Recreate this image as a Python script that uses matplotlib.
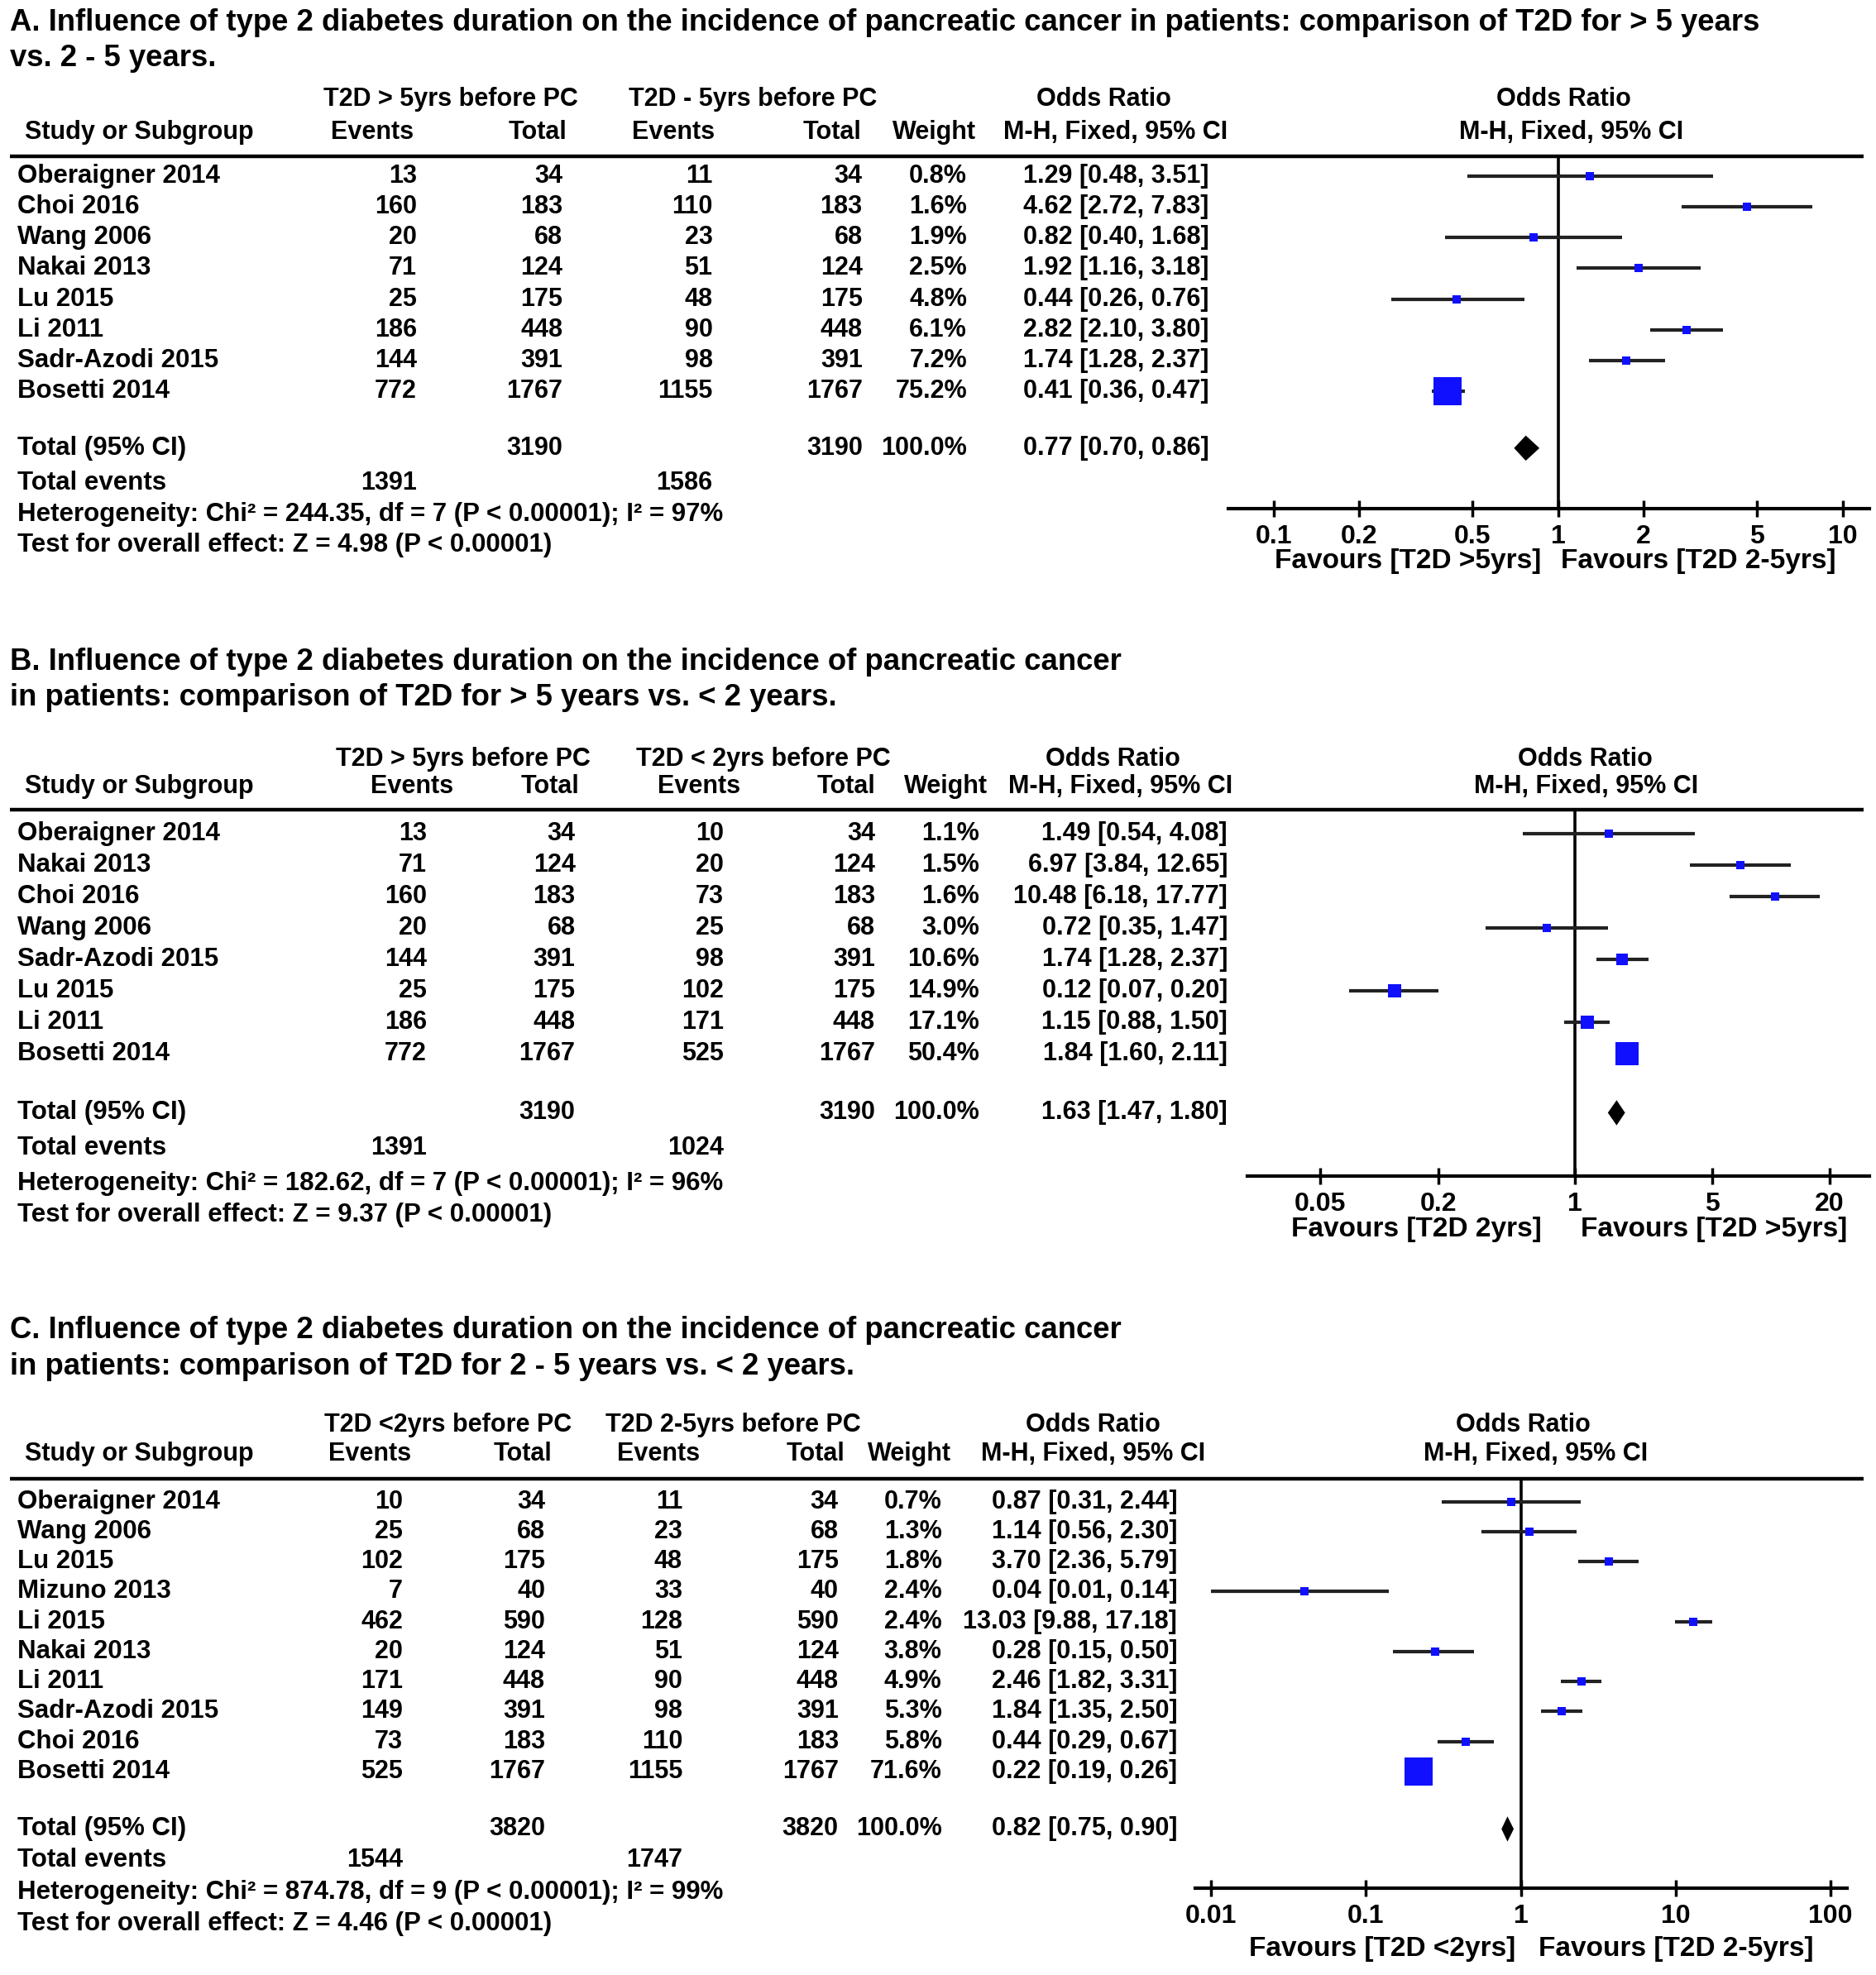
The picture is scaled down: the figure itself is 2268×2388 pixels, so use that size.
import numpy as np
import matplotlib
matplotlib.use("Agg")
import matplotlib.pyplot as plt

plt.rcParams['font.family'] = ['Liberation Sans', 'DejaVu Sans']
plt.rcParams['font.weight'] = 'bold'

# ---------------- panel A : > 5 yrs vs 2 - 5 yrs
title_a = ["A. Influence of type 2 diabetes duration on the incidence of pancreatic cancer in patients: comparison of T2D for > 5 years",
           "vs. 2 - 5 years."]
groups_a = ["T2D > 5yrs before PC", "T2D - 5yrs before PC"]
studies_a = ["Oberaigner 2014", "Choi 2016", "Wang 2006", "Nakai 2013", "Lu 2015",
             "Li 2011", "Sadr-Azodi 2015", "Bosetti 2014"]
ev1_a = [13, 160, 20, 71, 25, 186, 144, 772]
tot1_a = [34, 183, 68, 124, 175, 448, 391, 1767]
ev2_a = [11, 110, 23, 51, 48, 90, 98, 1155]
tot2_a = [34, 183, 68, 124, 175, 448, 391, 1767]
weight_a = [0.8, 1.6, 1.9, 2.5, 4.8, 6.1, 7.2, 75.2]
or_a = [1.29, 4.62, 0.82, 1.92, 0.44, 2.82, 1.74, 0.41]
lo_a = [0.48, 2.72, 0.40, 1.16, 0.26, 2.10, 1.28, 0.36]
hi_a = [3.51, 7.83, 1.68, 3.18, 0.76, 3.80, 2.37, 0.47]
total_a = (3190, 3190, 0.77, 0.70, 0.86)
events_a = (1391, 1586)
het_a = "Heterogeneity: Chi² = 244.35, df = 7 (P < 0.00001); I² = 97%"
test_a = "Test for overall effect: Z = 4.98 (P < 0.00001)"
ticks_a = [0.1, 0.2, 0.5, 1, 2, 5, 10]
ticklabels_a = ["0.1", "0.2", "0.5", "1", "2", "5", "10"]
favours_a = ["Favours [T2D >5yrs]", "Favours [T2D 2-5yrs]"]

# ---------------- panel B : > 5 yrs vs < 2 yrs
title_b = ["B. Influence of type 2 diabetes duration on the incidence of pancreatic cancer",
           "in patients: comparison of T2D for > 5 years vs. < 2 years."]
groups_b = ["T2D > 5yrs before PC", "T2D < 2yrs before PC"]
studies_b = ["Oberaigner 2014", "Nakai 2013", "Choi 2016", "Wang 2006", "Sadr-Azodi 2015",
             "Lu 2015", "Li 2011", "Bosetti 2014"]
ev1_b = [13, 71, 160, 20, 144, 25, 186, 772]
tot1_b = [34, 124, 183, 68, 391, 175, 448, 1767]
ev2_b = [10, 20, 73, 25, 98, 102, 171, 525]
tot2_b = [34, 124, 183, 68, 391, 175, 448, 1767]
weight_b = [1.1, 1.5, 1.6, 3.0, 10.6, 14.9, 17.1, 50.4]
or_b = [1.49, 6.97, 10.48, 0.72, 1.74, 0.12, 1.15, 1.84]
lo_b = [0.54, 3.84, 6.18, 0.35, 1.28, 0.07, 0.88, 1.60]
hi_b = [4.08, 12.65, 17.77, 1.47, 2.37, 0.20, 1.50, 2.11]
total_b = (3190, 3190, 1.63, 1.47, 1.80)
events_b = (1391, 1024)
het_b = "Heterogeneity: Chi² = 182.62, df = 7 (P < 0.00001); I² = 96%"
test_b = "Test for overall effect: Z = 9.37 (P < 0.00001)"
ticks_b = [0.05, 0.2, 1, 5, 20]
ticklabels_b = ["0.05", "0.2", "1", "5", "20"]
favours_b = ["Favours [T2D 2yrs]", "Favours [T2D >5yrs]"]

# ---------------- panel C : 2 - 5 yrs vs < 2 yrs
title_c = ["C. Influence of type 2 diabetes duration on the incidence of pancreatic cancer",
           "in patients: comparison of T2D for 2 - 5 years vs. < 2 years."]
groups_c = ["T2D <2yrs before PC", "T2D 2-5yrs before PC"]
studies_c = ["Oberaigner 2014", "Wang 2006", "Lu 2015", "Mizuno 2013", "Li 2015",
             "Nakai 2013", "Li 2011", "Sadr-Azodi 2015", "Choi 2016", "Bosetti 2014"]
ev1_c = [10, 25, 102, 7, 462, 20, 171, 149, 73, 525]
tot1_c = [34, 68, 175, 40, 590, 124, 448, 391, 183, 1767]
ev2_c = [11, 23, 48, 33, 128, 51, 90, 98, 110, 1155]
tot2_c = [34, 68, 175, 40, 590, 124, 448, 391, 183, 1767]
weight_c = [0.7, 1.3, 1.8, 2.4, 2.4, 3.8, 4.9, 5.3, 5.8, 71.6]
or_c = [0.87, 1.14, 3.70, 0.04, 13.03, 0.28, 2.46, 1.84, 0.44, 0.22]
lo_c = [0.31, 0.56, 2.36, 0.01, 9.88, 0.15, 1.82, 1.35, 0.29, 0.19]
hi_c = [2.44, 2.30, 5.79, 0.14, 17.18, 0.50, 3.31, 2.50, 0.67, 0.26]
total_c = (3820, 3820, 0.82, 0.75, 0.90)
events_c = (1544, 1747)
het_c = "Heterogeneity: Chi² = 874.78, df = 9 (P < 0.00001); I² = 99%"
test_c = "Test for overall effect: Z = 4.46 (P < 0.00001)"
ticks_c = [0.01, 0.1, 1, 10, 100]
ticklabels_c = ["0.01", "0.1", "1", "10", "100"]
favours_c = ["Favours [T2D <2yrs]", "Favours [T2D 2-5yrs]"]

# layout is worked out on a 1490 x 1569 grid (reference scaled down)
W, H = 1490.0, 1569.0
fig = plt.figure(figsize=(22.68, 23.88), dpi=100)
lay = fig.add_axes([0, 0, 1, 1])
lay.set_xlim(0, W)
lay.set_ylim(H, 0)
lay.axis('off')

TITLE_FS = 26.3
HEAD_FS = 22
ROW_FS = 22.5
NUM_FS = 22
TICK_FS = 23
FAV_FS = 24
BLUE = '#1010ff'


def box_size(w):
    # square side in points, area ~ weight
    return max(7.5, 25.0 * np.sqrt(w / 75.2))


def panel(title, title_y, groups, head1_y, head2_y, line_y, hx, cols,
          studies, ev1, tot1, ev2, tot2, weight, ors, los, his,
          row0, step, total, total_y, events, het, test,
          forest, ticks, ticklabels, favours, fav_x):
    # titles
    for k, t in enumerate(title):
        lay.text(8, title_y[k], t, fontsize=TITLE_FS, ha='left', va='center')
    # header
    lay.text(hx[0], head1_y, groups[0], fontsize=HEAD_FS, ha='center', va='center')
    lay.text(hx[1], head1_y, groups[1], fontsize=HEAD_FS, ha='center', va='center')
    lay.text(hx[2], head1_y, "Odds Ratio", fontsize=HEAD_FS, ha='center', va='center')
    lay.text(hx[3], head1_y, "Odds Ratio", fontsize=HEAD_FS, ha='center', va='center')
    lay.text(20, head2_y, "Study or Subgroup", fontsize=HEAD_FS, ha='left', va='center')
    for x, s in zip(hx[4:10], ["Events", "Total", "Events", "Total", "Weight", "M-H, Fixed, 95% CI"]):
        lay.text(x, head2_y, s, fontsize=HEAD_FS, ha='center', va='center')
    lay.text(hx[10], head2_y, "M-H, Fixed, 95% CI", fontsize=HEAD_FS, ha='center', va='center')
    lay.plot([8, 1480], [line_y, line_y], color='black', lw=3.2, solid_capstyle='butt')

    # rows
    ys = [row0 + i * step for i in range(len(studies))]
    for i, y in enumerate(ys):
        lay.text(14, y, studies[i], fontsize=ROW_FS, ha='left', va='center')
        vals = [str(ev1[i]), str(tot1[i]), str(ev2[i]), str(tot2[i]), f"{weight[i]:.1f}%",
                f"{ors[i]:.2f} [{los[i]:.2f}, {his[i]:.2f}]"]
        for x, v in zip(cols, vals):
            lay.text(x, y, v, fontsize=NUM_FS, ha='right', va='center')
    # totals
    lay.text(14, total_y[0], "Total (95% CI)", fontsize=ROW_FS, ha='left', va='center')
    lay.text(cols[1], total_y[0], str(total[0]), fontsize=NUM_FS, ha='right', va='center')
    lay.text(cols[3], total_y[0], str(total[1]), fontsize=NUM_FS, ha='right', va='center')
    lay.text(cols[4], total_y[0], "100.0%", fontsize=NUM_FS, ha='right', va='center')
    lay.text(cols[5], total_y[0], f"{total[2]:.2f} [{total[3]:.2f}, {total[4]:.2f}]",
             fontsize=NUM_FS, ha='right', va='center')
    lay.text(14, total_y[1], "Total events", fontsize=ROW_FS, ha='left', va='center')
    lay.text(cols[0], total_y[1], str(events[0]), fontsize=NUM_FS, ha='right', va='center')
    lay.text(cols[2], total_y[1], str(events[1]), fontsize=NUM_FS, ha='right', va='center')
    lay.text(14, total_y[2], het, fontsize=ROW_FS, ha='left', va='center')
    lay.text(14, total_y[3], test, fontsize=ROW_FS, ha='left', va='center')

    # forest plot axes
    x0, x1, p1, dec, y_axis = forest
    ax = fig.add_axes([x0 / W, 1 - y_axis / H, (x1 - x0) / W, (y_axis - line_y) / H])
    ax.set_xscale('log')
    ax.set_xlim(10 ** ((x0 - p1) / dec), 10 ** ((x1 - p1) / dec))
    ax.set_ylim(y_axis, line_y)
    ax.patch.set_alpha(0)
    for s in ['top', 'left', 'right']:
        ax.spines[s].set_visible(False)
    ax.spines['bottom'].set_linewidth(3)
    ax.set_yticks([])
    ax.set_xticks(ticks)
    ax.set_xticklabels(ticklabels, fontsize=TICK_FS, fontweight='bold')
    ax.xaxis.set_minor_locator(matplotlib.ticker.NullLocator())
    ax.tick_params(axis='x', direction='inout', length=14, width=2.5, pad=7)
    ax.axvline(1, color='black', lw=2.6)
    for i, y in enumerate(ys):
        ax.plot([los[i], his[i]], [y, y], color='#222222', lw=3.0, solid_capstyle='butt')
        ax.plot(ors[i], y, marker='s', ms=box_size(weight[i]), color=BLUE, mec=BLUE, mew=0)
    dh = 10
    ty = total_y[0]
    ax.fill([total[3], total[2], total[4], total[2]], [ty, ty - dh, ty, ty + dh],
            color='black', lw=0)
    fy = fav_x[2]
    lay.text(fav_x[0], fy, favours[0], fontsize=FAV_FS, ha='center', va='center')
    lay.text(fav_x[1], fy, favours[1], fontsize=FAV_FS, ha='center', va='center')


panel(title_a, [18, 46], groups_a, 79, 105, 124,
      [358, 598, 877, 1242, 296, 427, 535, 661, 742, 886, 1248],
      [331, 447, 566, 685, 768, 960],
      studies_a, ev1_a, tot1_a, ev2_a, tot2_a, weight_a, or_a, lo_a, hi_a,
      140, 24.4, total_a, [356, 384, 409, 433], events_a, het_a, test_a,
      (975.6, 1484.6, 1237.5, 226.0, 404), ticks_a, ticklabels_a, favours_a, (1118, 1349, 446))

panel(title_b, [526, 554], groups_b, 603, 625, 643,
      [368, 606, 884, 1259, 327, 437, 555, 672, 751, 890, 1260],
      [339, 457, 575, 695, 778, 975],
      studies_b, ev1_b, tot1_b, ev2_b, tot2_b, weight_b, or_b, lo_b, hi_b,
      662, 25.0, total_b, [884, 912, 940, 965], events_b, het_b, test_b,
      (990.6, 1484.6, 1251.0, 155.5, 934), ticks_b, ticklabels_b, favours_b, (1125, 1361, 977))

panel(title_c, [1057, 1086], groups_c, 1132, 1155, 1175,
      [356, 582, 868, 1210, 294, 415, 523, 648, 722, 868, 1220],
      [320, 433, 542, 666, 748, 935],
      studies_c, ev1_c, tot1_c, ev2_c, tot2_c, weight_c, or_c, lo_c, hi_c,
      1193, 23.8, total_c, [1453, 1478, 1503, 1528], events_c, het_c, test_c,
      (949.6, 1466.8, 1207.9, 123.0, 1500), ticks_c, ticklabels_c, favours_c, (1098, 1331, 1548))

fig.savefig("out.png", dpi=100, facecolor='white')
